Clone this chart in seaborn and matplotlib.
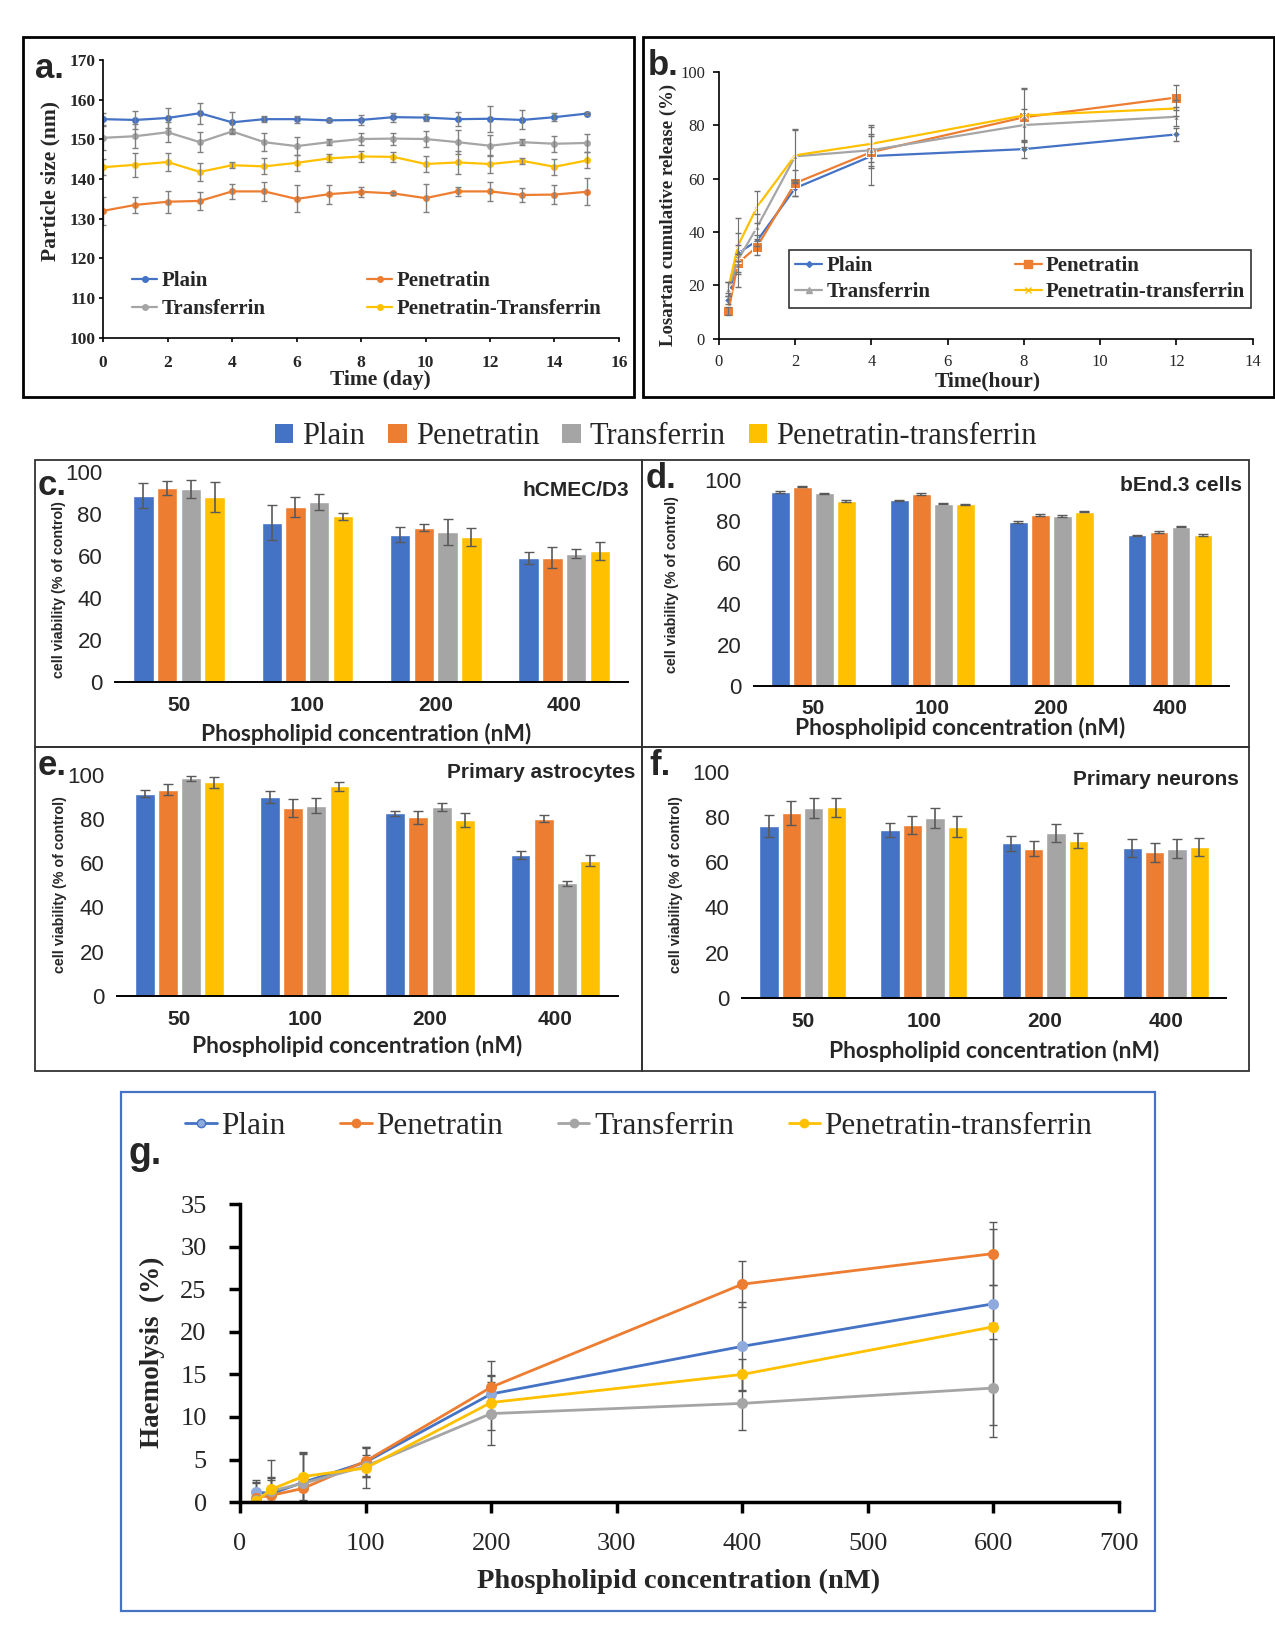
import numpy as np
import pandas as pd
import matplotlib.pyplot as plt
import seaborn as sns
from matplotlib.patches import Rectangle, Patch
from matplotlib.lines import Line2D

sns.set_theme(style='white')
plt.rcParams['font.family'] = ['Liberation Sans', 'DejaVu Sans']

# --------------------------------
# data
# --------------------------------
groups = ['Plain', 'Penetratin', 'Transferrin', 'Penetratin-transferrin']
colors = ['#4472C4', '#ED7D31', '#A5A5A5', '#FFC000']

# a. particle size over time
days = list(range(16))
size_plain = [155.1, 154.9, 155.4, 156.6, 154.3, 155.1, 155.1, 154.8, 154.9, 155.6, 155.5, 155.1, 155.2, 154.9, 155.6, 156.5]
size_pen = [132.0, 133.5, 134.3, 134.5, 136.9, 136.9, 135.0, 136.2, 136.8, 136.4, 135.2, 136.9, 136.9, 136.0, 136.1, 136.8]
size_tf = [150.4, 150.8, 151.8, 149.3, 152.0, 149.3, 148.3, 149.3, 150.1, 150.2, 150.1, 149.3, 148.4, 149.3, 148.9, 149.1]
size_ptf = [143.0, 143.6, 144.3, 141.8, 143.5, 143.2, 144.1, 145.2, 145.7, 145.6, 143.8, 144.2, 143.8, 144.6, 143.1, 144.7]
size_err_plain = [1.5, 2.2, 2.5, 2.6, 2.6, 0.8, 0.9, 0.3, 1.2, 1.1, 0.9, 1.8, 3.3, 2.4, 1.0, 0.3]
size_err_pen = [3.5, 2.0, 2.8, 2.2, 1.8, 2.3, 3.4, 2.4, 1.2, 0.3, 3.6, 1.1, 2.3, 1.8, 2.3, 3.4]
size_err_tf = [3.0, 3.0, 2.5, 2.5, 0.7, 2.2, 2.2, 0.8, 1.5, 1.5, 2.0, 3.0, 2.6, 0.8, 2.0, 2.2]
size_err_ptf = [2.0, 3.0, 2.2, 2.2, 0.8, 2.0, 2.0, 1.0, 1.4, 1.3, 2.0, 2.8, 2.3, 0.8, 2.0, 2.0]

# b. losartan release
time_h = [0.25, 0.5, 1, 2, 4, 8, 12]
rel_plain = [14.4, 32.1, 36.7, 56.4, 68.4, 71.0, 76.5]
rel_pen = [10.6, 28.4, 34.5, 58.3, 69.9, 82.9, 90.3]
rel_tf = [18.7, 29.6, 41.8, 68.3, 70.6, 80.0, 83.1]
rel_ptf = [19.3, 34.9, 49.4, 68.7, 73.0, 83.6, 86.2]
rel_err_plain = [1.5, 3.0, 2.0, 3.0, 11.0, 3.5, 2.3]
rel_err_pen = [1.5, 3.5, 3.0, 5.0, 6.0, 11.0, 4.5]
rel_err_tf = [2.5, 10.0, 5.0, 10.0, 6.0, 6.0, 3.5]
rel_err_ptf = [2.0, 10.5, 6.0, 10.0, 7.0, 10.0, 3.0]

# c-f. cell viability (rows = groups, columns = concentrations)
concs = ['50', '100', '200', '400']
hcmec_mean = [[88.5, 75.8, 70.1, 58.8], [92.1, 83.3, 73.4, 59.1], [91.8, 85.7, 71.4, 61.0], [88.0, 78.7, 69.0, 62.3]]
hcmec_err = [[6.0, 8.5, 3.5, 2.8], [3.2, 4.8, 1.8, 5.0], [4.3, 3.8, 6.2, 2.2], [7.0, 1.5, 4.3, 4.2]]
bend_mean = [[94.2, 90.2, 79.5, 73.1], [96.8, 93.3, 83.0, 74.7], [93.5, 88.6, 82.4, 77.4], [89.8, 88.2, 84.6, 73.4]]
bend_err = [[0.4, 0.3, 0.4, 0.3], [0.3, 0.4, 0.5, 0.4], [0.3, 0.3, 0.4, 0.4], [0.3, 0.3, 0.3, 0.5]]
astro_mean = [[91.5, 90.0, 82.5, 63.7], [93.3, 85.0, 80.7, 80.2], [98.4, 86.0, 85.3, 50.8], [96.5, 94.8, 79.6, 61.2]]
astro_err = [[1.5, 2.7, 1.3, 1.7], [2.5, 4.2, 2.8, 1.8], [1.2, 3.3, 1.8, 1.1], [2.5, 2.0, 3.2, 2.3]]
neuron_mean = [[76.0, 74.1, 68.3, 66.4], [81.7, 76.5, 66.0, 64.3], [84.0, 79.5, 72.7, 66.0], [84.3, 75.7, 69.4, 66.7]]
neuron_err = [[4.8, 3.0, 3.3, 4.0], [5.2, 4.0, 3.3, 4.1], [4.3, 4.5, 4.0, 4.2], [4.2, 4.6, 3.3, 3.8]]

# g. haemolysis
conc_g = [12.5, 25, 50, 100, 200, 400, 600]
haem_plain = [1.2, 1.0, 2.3, 4.7, 12.7, 18.3, 23.3]
haem_pen = [0.5, 0.8, 1.6, 4.8, 13.5, 25.6, 29.2]
haem_tf = [0.3, 1.3, 2.2, 4.2, 10.4, 11.6, 13.4]
haem_ptf = [0.1, 1.5, 3.0, 4.0, 11.7, 15.0, 20.6]
haem_err_plain = [1.4, 1.6, 3.5, 1.8, 2.1, 5.2, 2.2]
haem_err_pen = [1.8, 2.0, 1.3, 1.7, 3.1, 2.7, 3.7]
haem_err_tf = [2.1, 3.6, 3.5, 1.3, 3.7, 3.1, 5.8]
haem_err_ptf = [1.0, 1.4, 2.9, 2.3, 3.2, 1.8, 11.5]

# --------------------------------
# helpers (layout measured on a 0.95-scaled view of the page)
# --------------------------------
W, H = 1275, 1650
S = 1 / 0.95
fig = plt.figure(figsize=(W / 100, H / 100), dpi=100)

SERIF = ['Liberation Serif', 'DejaVu Serif']
SANS = ['Liberation Sans', 'DejaVu Sans']


def px_axes(x0, y0, x1, y1):
    x0, y0, x1, y1 = [v * S for v in (x0, y0, x1, y1)]
    return fig.add_axes([x0 / W, 1 - y1 / H, (x1 - x0) / W, (y1 - y0) / H])


def px_text(x, y, s, **kw):
    fig.text(x * S / W, 1 - y * S / H, s, **kw)


def px_box(x0, y0, x1, y1, color='black', lw=1.5):
    x0, y0, x1, y1 = [v * S for v in (x0, y0, x1, y1)]
    fig.add_artist(Rectangle((x0 / W, 1 - y1 / H), (x1 - x0) / W, (y1 - y0) / H,
                             transform=fig.transFigure, fill=False, edgecolor=color, lw=lw))


def long_df(x, series):
    rows = []
    for g, vals in zip(groups, series):
        for xi, v in zip(x, vals):
            rows.append({'x': xi, 'y': v, 'group': g})
    return pd.DataFrame(rows)


def style_line_axes(ax, fsize, family=SERIF, lw=1.2, pad=4, length=4):
    sns.despine(ax=ax)
    for s in ['left', 'bottom']:
        ax.spines[s].set_color('black')
        ax.spines[s].set_linewidth(lw)
    ax.tick_params(axis='both', direction='out', length=length, width=lw, color='black',
                   labelsize=fsize, pad=pad, bottom=True, left=True)
    for lab in ax.get_xticklabels() + ax.get_yticklabels():
        lab.set_family(family)


# --------------------------------
# a. particle size
# --------------------------------
px_box(22, 35, 602, 377, lw=2)
ax = px_axes(98, 57, 588, 321)
df_a = long_df(days, [size_plain, size_pen, size_tf, size_ptf])
sns.lineplot(data=df_a, x='x', y='y', hue='group', palette=colors, marker='o',
             markersize=5, markeredgewidth=0, linewidth=1.6, errorbar=None, legend=False, ax=ax)
for vals, errs in zip([size_plain, size_pen, size_tf, size_ptf],
                      [size_err_plain, size_err_pen, size_err_tf, size_err_ptf]):
    ax.errorbar(days, vals, yerr=errs, fmt='none', ecolor='#808080', elinewidth=1, capsize=2.5)
ax.set_xlim(0, 16)
ax.set_ylim(100, 170)
ax.set_xticks(range(0, 17, 2))
ax.set_yticks(range(100, 171, 10))
ax.set_xlabel('')
ax.set_ylabel('')
style_line_axes(ax, 12.5, pad=2.5, length=3)
ax.tick_params(axis='x', pad=9)
for lab in ax.get_xticklabels() + ax.get_yticklabels():
    lab.set_fontweight('bold')
px_text(48, 172, 'Particle size (nm)', rotation=90, ha='center', va='center',
        family=SERIF, fontweight='bold', fontsize=15.5)
px_text(361, 361, 'Time (day)', ha='center', va='center', family=SERIF, fontweight='bold', fontsize=15.5)
labels_a = ['Plain', 'Transferrin', 'Penetratin', 'Penetratin-Transferrin']
cols_a = [colors[0], colors[2], colors[1], colors[3]]
h_a = [Line2D([], [], color=c, marker='o', markersize=4, lw=1.6) for c in cols_a]
ax.legend(h_a, labels_a, ncol=2, loc='lower left', bbox_to_anchor=(0.02, 0.0), frameon=False,
          prop={'family': SERIF, 'weight': 'bold', 'size': 15}, handlelength=1.2,
          handletextpad=0.2, columnspacing=4.9, labelspacing=0.4)
px_text(33, 65, 'a.', family=SANS, fontweight='bold', fontsize=25, va='center')

# --------------------------------
# b. release
# --------------------------------
px_box(611, 35, 1210, 377, lw=2)
ax = px_axes(683, 68, 1190, 322)
df_b = long_df(time_h, [rel_plain, rel_pen, rel_tf, rel_ptf])
mk_b = ['D', 's', '^', 'X']
ms_b = [4, 7, 5, 6]
sns.lineplot(data=df_b, x='x', y='y', hue='group', palette=colors, style='group',
             markers=mk_b, dashes=False, markersize=5, linewidth=1.6, errorbar=None, legend=False, ax=ax)
for line, ms in zip(ax.lines, ms_b):
    line.set_markersize(ms)
ax.lines[3].set_marker('x')
for vals, errs in zip([rel_plain, rel_pen, rel_tf, rel_ptf],
                      [rel_err_plain, rel_err_pen, rel_err_tf, rel_err_ptf]):
    ax.errorbar(time_h, vals, yerr=errs, fmt='none', ecolor='#707070', elinewidth=0.8, capsize=2)
ax.set_xlim(0, 14)
ax.set_ylim(0, 100)
ax.set_xticks(range(0, 15, 2))
ax.set_yticks(range(0, 101, 20))
ax.set_xlabel('')
ax.set_ylabel('')
style_line_axes(ax, 12, pad=6)
ax.tick_params(axis='x', pad=7)
px_text(635, 204, 'Losartan cumulative release (%)', rotation=90, ha='center', va='center',
        family=SERIF, fontweight='bold', fontsize=13.5)
px_text(938, 362, 'Time(hour)', ha='center', va='center', family=SERIF, fontweight='bold', fontsize=15.5)
labels_b = ['Plain', 'Transferrin', 'Penetratin', 'Penetratin-transferrin']
order_b = [0, 2, 1, 3]
mk_leg = ['D', 's', '^', 'x']
h_b = [Line2D([], [], color=colors[i], marker=mk_leg[i], markersize=ms_b[i] - 1, lw=1.6) for i in order_b]
leg = ax.legend(h_b, labels_b, ncol=2, loc='lower left', bbox_to_anchor=(0.112, 0.075, 0.905, 0.2),
                mode='expand', frameon=True, fancybox=False,
                prop={'family': SERIF, 'weight': 'bold', 'size': 15}, handlelength=1.3,
                handletextpad=0.2, labelspacing=0.3, borderpad=0.3)
leg.get_frame().set_edgecolor('black')
leg.get_frame().set_linewidth(1.2)
px_text(615, 62, 'b.', family=SANS, fontweight='bold', fontsize=25, va='center')

# --------------------------------
# shared legend for bar panels
# --------------------------------
h_bar = [Patch(facecolor=c, edgecolor='none') for c in colors]
fig.legend(h_bar, groups, ncol=4, loc='center', bbox_to_anchor=(623 * S / W, 1 - 415 * S / H), frameon=False,
           prop={'family': SERIF, 'size': 22}, handlelength=0.6, handleheight=0.6,
           handletextpad=0.3, columnspacing=0.75)


# --------------------------------
# c-f. cell viability bars
# --------------------------------
def bar_panel(box, axbox, means, errs, title, title_xy, ylab_xy, xlab_xy, letter_xy, letter, xpad=4):
    px_box(*box, color='#333333', lw=1.3)
    ax = px_axes(*axbox)
    df = pd.DataFrame([{'conc': c, 'val': means[gi][ci], 'group': g}
                       for gi, g in enumerate(groups) for ci, c in enumerate(concs)])
    sns.barplot(data=df, x='conc', y='val', hue='group', order=concs, hue_order=groups,
                palette=colors, saturation=1, errorbar=None, width=0.74, gap=0.14,
                legend=False, ax=ax)
    for cont, e in zip(ax.containers, errs):
        xs = [b.get_x() + b.get_width() / 2 for b in cont]
        hs = [b.get_height() for b in cont]
        ax.errorbar(xs, hs, yerr=e, fmt='none', ecolor='#595959', elinewidth=1.2, capsize=3.5)
    ax.set_xlim(-0.5, 3.5)
    ax.set_ylim(0, 100)
    ax.set_yticks(range(0, 101, 20))
    ax.set_xlabel('')
    ax.set_ylabel('')
    sns.despine(ax=ax, left=True)
    ax.spines['bottom'].set_color('black')
    ax.spines['bottom'].set_linewidth(1.4)
    ax.tick_params(axis='y', left=False, labelsize=16, pad=3)
    ax.tick_params(axis='x', bottom=False, labelsize=15, pad=xpad)
    for lab in ax.get_xticklabels():
        lab.set_fontweight('bold')
    px_text(title_xy[0], title_xy[1], title, ha='right', va='center', fontweight='bold', fontsize=15)
    px_text(ylab_xy[0], ylab_xy[1], 'cell viability (% of control)', rotation=90, ha='center',
            va='center', fontweight='bold', fontsize=10.3)
    px_text(xlab_xy[0], xlab_xy[1], 'Phospholipid concentration (nM)', ha='center', va='center',
            family=['Lato', 'DejaVu Sans'], fontweight='bold', fontsize=16.4)
    px_text(letter_xy[0], letter_xy[1], letter, family=SANS, fontweight='bold', fontsize=25, va='center')


bar_panel((33, 437, 610, 710), (109, 448, 597, 648), hcmec_mean, hcmec_err, 'hCMEC/D3',
          (598, 466), (56, 560), (348, 697), (36, 461), 'c.')
bar_panel((610, 437, 1187, 710), (716, 456, 1168, 652), bend_mean, bend_err, 'bEnd.3 cells',
          (1180, 461), (638, 555), (912, 692), (613, 455), 'd.', xpad=3)
bar_panel((33, 710, 610, 1017), (111, 736, 587, 946), astro_mean, astro_err, 'Primary astrocytes',
          (604, 734), (57, 840), (339, 994), (36, 727), 'e.')
bar_panel((610, 710, 1187, 1017), (705, 733, 1165, 948), neuron_mean, neuron_err, 'Primary neurons',
          (1177, 741), (642, 840), (944, 998), (617, 727), 'f.')

# --------------------------------
# g. haemolysis
# --------------------------------
px_box(115, 1037, 1097, 1530, color='#4472C4', lw=1.6)
ax = px_axes(228, 1144, 1063, 1427)
df_g = long_df(conc_g, [haem_plain, haem_pen, haem_tf, haem_ptf])
for vals, errs in zip([haem_plain, haem_pen, haem_tf, haem_ptf],
                      [haem_err_plain, haem_err_pen, haem_err_tf, haem_err_ptf]):
    ax.errorbar(conc_g, vals, yerr=errs, fmt='none', ecolor='#595959', elinewidth=1, capsize=3)
sns.lineplot(data=df_g, x='x', y='y', hue='group', palette=colors, marker='o', markersize=8,
             markeredgewidth=0, linewidth=2, errorbar=None, legend=False, ax=ax)
ax.lines[-4].set_markerfacecolor('#8FAADC')
ax.set_xlim(0, 700)
ax.set_ylim(0, 35)
ax.set_xticks(range(0, 701, 100))
ax.set_yticks(range(0, 36, 5))
ax.set_xlabel('')
ax.set_ylabel('')
style_line_axes(ax, 19, lw=2.5)
ax.tick_params(axis='both', length=8)
ax.tick_params(axis='y', pad=16)
ax.tick_params(axis='x', pad=14)
px_text(145, 1285, 'Haemolysis  (%)', rotation=90, ha='center', va='center',
        family=SERIF, fontweight='bold', fontsize=19.5)
px_text(645, 1502, 'Phospholipid concentration (nM)', ha='center', va='center',
        family=SERIF, fontweight='bold', fontsize=20.5)
h_g = [Line2D([], [], color=c, marker='o', markersize=6, lw=2) for c in colors]
h_g[0].set_markerfacecolor('#8FAADC')
fig.legend(h_g, groups, ncol=4, loc='center', bbox_to_anchor=(607 * S / W, 1 - 1070 * S / H), frameon=False,
           prop={'family': SERIF, 'size': 22.5}, handlelength=1.0,
           handletextpad=0.15, columnspacing=1.75)
px_text(122, 1096, 'g.', family=SANS, fontweight='bold', fontsize=27, va='center')

fig.savefig('out.png', dpi=100, facecolor='white')
